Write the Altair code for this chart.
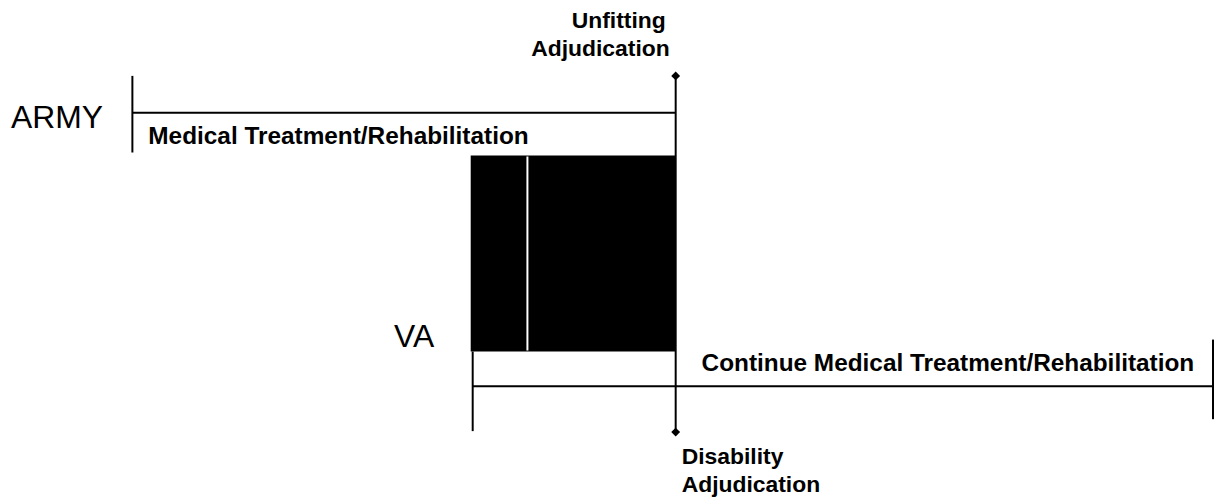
import altair as alt
import pandas as pd

# Timeline positions (diagram units)
seg_x = [133, 133, 679, 475, 475, 1219]
seg_x2 = [133, 679, 679, 475, 1219, 1219]
seg_y = [75, 112, 75, 352, 387, 340]
seg_y2 = [152, 112, 433, 432, 387, 420]

box_x, box_x2, box_y, box_y2 = [473], [679], [155], [352]
gap_x, gap_y, gap_y2 = [530], [156], [351]

dia_x = [679, 679]
dia_y = [75, 433]

big_labels = ["ARMY", "VA"]
big_x = [11, 396]
big_y = [127, 347]

long_labels = ["Medical Treatment/Rehabilitation", "Continue Medical Treatment/Rehabilitation"]
long_x = [149, 705]
long_y = [143, 372]

top_labels = ["Unfitting", "Adjudication"]
top_x = [669, 673]
top_y = [20, 48]

bottom_labels = ["Disability", "Adjudication"]
bottom_x = [685, 685]
bottom_y = [458, 486]

xs = alt.Scale(domain=[8, 1221])
ys = alt.Scale(domain=[8, 500], reverse=True)
X = lambda: alt.X("x:Q", scale=xs, axis=None)
Y = lambda: alt.Y("y:Q", scale=ys, axis=None)

segs = pd.DataFrame({"x": seg_x, "x2": seg_x2, "y": seg_y, "y2": seg_y2})
rules = alt.Chart(segs).mark_rule(color="black", strokeWidth=2).encode(
    x=X(), x2="x2:Q", y=Y(), y2="y2:Q")

box = alt.Chart(pd.DataFrame({"x": box_x, "x2": box_x2, "y": box_y, "y2": box_y2})).mark_rect(
    color="black").encode(x=X(), x2="x2:Q", y=Y(), y2="y2:Q")

gap = alt.Chart(pd.DataFrame({"x": gap_x, "y": gap_y, "y2": gap_y2})).mark_rule(
    color="white", strokeWidth=2).encode(x=X(), y=Y(), y2="y2:Q")

dia = alt.Chart(pd.DataFrame({"x": dia_x, "y": dia_y})).mark_point(
    shape="diamond", filled=True, color="black", size=80, opacity=1).encode(x=X(), y=Y())

big = alt.Chart(pd.DataFrame({"t": big_labels, "x": big_x, "y": big_y})).mark_text(
    font="Liberation Sans", fontSize=32, align="left", baseline="alphabetic",
    color="black").encode(x=X(), y=Y(), text="t:N")

longt = alt.Chart(pd.DataFrame({"t": long_labels, "x": long_x, "y": long_y})).mark_text(
    font="Liberation Sans", fontSize=24.5, fontWeight="bold", align="left",
    baseline="alphabetic", color="black").encode(x=X(), y=Y(), text="t:N")

topt = alt.Chart(pd.DataFrame({"t": top_labels, "x": top_x, "y": top_y})).mark_text(
    font="Liberation Sans", fontSize=23, fontWeight="bold", align="right",
    baseline="middle", color="black").encode(x=X(), y=Y(), text="t:N")

bott = alt.Chart(pd.DataFrame({"t": bottom_labels, "x": bottom_x, "y": bottom_y})).mark_text(
    font="Liberation Sans", fontSize=23, fontWeight="bold", align="left",
    baseline="middle", color="black").encode(x=X(), y=Y(), text="t:N")

chart = alt.layer(rules, box, gap, dia, big, longt, topt, bott).properties(
    width=1213, height=492, padding=0, autosize=alt.AutoSizeParams(type="none")
).configure_view(stroke=None)

chart.save("out.html", embed_options={"renderer": "svg", "actions": False})
